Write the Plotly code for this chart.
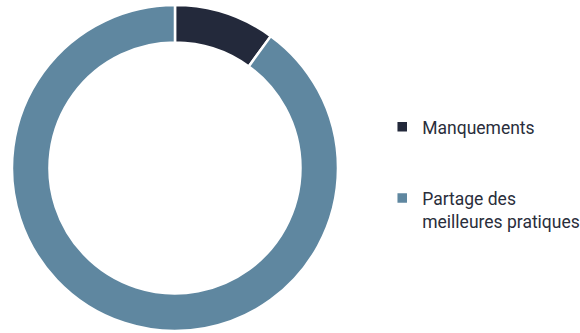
import plotly.graph_objects as go

# Données
labels = ['Manquements', 'Partage des meilleures pratiques']
legend_text = ['Manquements<br> <br> ', 'Partage des<br>meilleures pratiques']
values = [10, 90]
colors = ['#23293b', '#5f87a0']

fig = go.Figure()
fig.add_trace(go.Pie(
    labels=legend_text,
    values=values,
    hole=0.77,
    sort=False,
    direction='clockwise',
    rotation=0,
    textinfo='none',
    hoverinfo='skip',
    marker=dict(colors=colors, line=dict(color='white', width=2.5)),
    domain=dict(x=[0, 0.6034], y=[0, 1]),
))

fig.update_layout(
    width=580,
    height=333,
    margin=dict(l=0, r=0, t=5, b=2, autoexpand=False),
    paper_bgcolor='white',
    plot_bgcolor='white',
    font=dict(family='Roboto', size=17.5, color='#2a2e3b'),
    showlegend=True,
    legend=dict(
        x=0.659, xanchor='left',
        y=0.6815, yanchor='top',
        valign='top',
        bgcolor='rgba(0,0,0,0)',
        itemclick=False,
    ),
)

# la page ajoute une marge de 8px au body : on la retire
fig.write_html('out.html', config={'displayModeBar': False},
               post_script="document.body.style.margin='0';")
